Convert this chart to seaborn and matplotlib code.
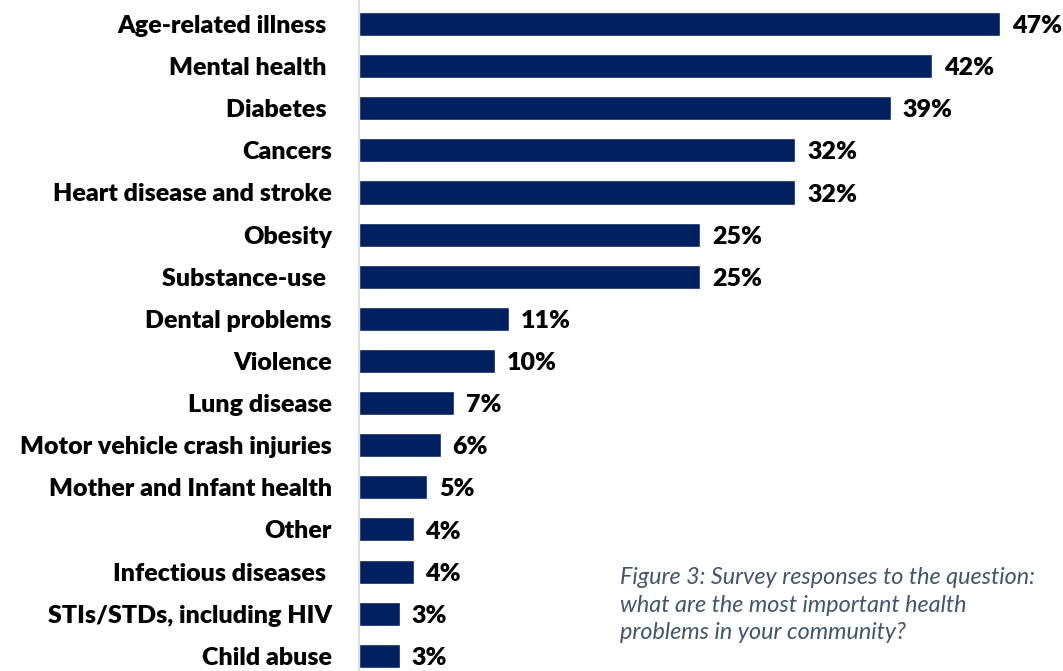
import matplotlib
matplotlib.use("Agg")
import matplotlib.pyplot as plt
import seaborn as sns
import pandas as pd

categories = [
    "Age-related illness ", "Mental health ", "Diabetes ", "Cancers",
    "Heart disease and stroke", "Obesity", "Substance-use ", "Dental problems",
    "Violence", "Lung disease", "Motor vehicle crash injuries",
    "Mother and Infant health", "Other", "Infectious diseases ",
    "STIs/STDs, including HIV", "Child abuse",
]
percent = [47, 42, 39, 32, 32, 25, 25, 11, 10, 7, 6, 5, 4, 4, 3, 3]

caption = ("Figure 3: Survey responses to the question:\n"
           "what are the most important health\n"
           "problems in your community?")

df = pd.DataFrame({"category": categories, "percent": percent})

sns.set_style("white")
plt.rcParams["font.family"] = ["Lato", "DejaVu Sans"]

fig = plt.figure(figsize=(10.63, 6.71), dpi=100)
ax = fig.add_axes([359 / 1063, 0, 1 - 359 / 1063, 1])

sns.barplot(data=df, x="percent", y="category", orient="h",
            color="#002060", saturation=1, width=0.57, ax=ax)

ax.set_xlim(0, 704 / 13.64)
ax.set_ylim(15.36, -0.57)
ax.set_xlabel("")
ax.set_ylabel("")
ax.set_xticks([])
ax.tick_params(axis="y", length=0, pad=19.5)
for lbl in ax.get_yticklabels():
    lbl.set_fontweight("heavy")
    lbl.set_fontsize(18)
    lbl.set_color("black")

for side in ("top", "right", "bottom"):
    ax.spines[side].set_visible(False)
ax.spines["left"].set_color("#d9d9d9")
ax.spines["left"].set_linewidth(1.2)

for i, v in enumerate(percent):
    ax.annotate(f"{v}%", xy=(v, i), xytext=(8.5, -1.5), textcoords="offset points",
                ha="left", va="center", fontsize=18, fontweight="heavy",
                color="black")

fig.text(620 / 1063, 1 - 605 / 671, caption, ha="left", va="center",
         fontsize=16.8, fontstyle="italic", color="#44546A", linespacing=1.38)

fig.savefig("out.png", dpi=100)
